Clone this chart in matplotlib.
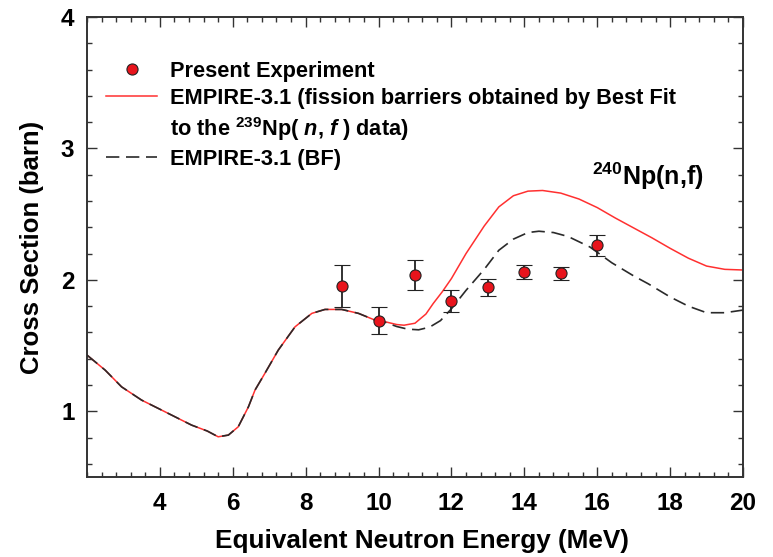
import matplotlib
matplotlib.use("Agg")
import matplotlib.pyplot as plt
from matplotlib.lines import Line2D
from matplotlib.ticker import MultipleLocator

plt.rcParams['font.family'] = ['Liberation Sans', 'DejaVu Sans']
plt.rcParams['font.weight'] = 'bold'
plt.rcParams['axes.labelweight'] = 'bold'
plt.rcParams['mathtext.fontset'] = 'custom'
plt.rcParams['mathtext.rm'] = 'Liberation Sans:bold'
plt.rcParams['mathtext.it'] = 'Liberation Sans:italic:bold'
plt.rcParams['mathtext.bf'] = 'Liberation Sans:bold'

# measured cross sections
exp_e = [9, 10, 11, 12, 13, 14, 15, 16]
exp_xs = [1.95, 1.69, 2.035, 1.84, 1.945, 2.06, 2.05, 2.265]
exp_err = [0.16, 0.105, 0.115, 0.083, 0.065, 0.053, 0.05, 0.08]

# EMPIRE curves, identical below ~10 MeV
common_e = [2.0, 2.5, 2.95, 3.5, 4.05, 4.87, 5.3, 5.6, 5.88, 6.15, 6.43, 6.61,
            6.88, 7.25, 7.71, 8.17, 8.53, 8.99, 9.45, 9.9]
common_xs = [1.428, 1.313, 1.186, 1.085, 1.009, 0.895, 0.85, 0.806, 0.819, 0.882,
             1.034, 1.161, 1.288, 1.466, 1.643, 1.745, 1.775, 1.775, 1.745, 1.694]

fit_e = [10.2, 10.5, 10.7, 11.0, 11.3, 11.5, 11.75, 12.0, 12.4, 12.9, 13.3, 13.7,
         14.1, 14.5, 15.0, 15.5, 16.0, 16.5, 17.0, 17.5, 18.0, 18.5, 19.0, 19.5, 20.0]
fit_xs = [1.68, 1.66, 1.655, 1.67, 1.74, 1.82, 1.91, 2.01, 2.2, 2.41, 2.555, 2.64,
          2.675, 2.68, 2.66, 2.615, 2.55, 2.47, 2.395, 2.32, 2.24, 2.165, 2.105, 2.08, 2.075]

bf_e = [10.2, 10.5, 10.8, 11.1, 11.4, 11.7, 12.0, 12.4, 12.9, 13.3, 13.7, 14.1,
        14.4, 14.8, 15.2, 15.8, 16.4, 17.0, 17.4, 18.0, 18.5, 19.0, 19.5, 20.0]
bf_xs = [1.675, 1.645, 1.625, 1.62, 1.64, 1.69, 1.78, 1.92, 2.08, 2.225, 2.31, 2.36,
         2.37, 2.36, 2.33, 2.25, 2.13, 2.03, 1.97, 1.87, 1.8, 1.75, 1.75, 1.77]

fig = plt.figure(figsize=(7.73, 5.57), dpi=100)
ax = fig.add_axes([0.1125, 0.1436, 0.8487, 0.8259])

ax.plot(common_e + fit_e, common_xs + fit_xs, color='#ff3030', lw=1.1, zorder=2)
ax.plot(common_e + bf_e, common_xs + bf_xs, color='#2a2a2a', lw=1.2,
        dashes=(8, 4), zorder=3)
ax.errorbar(exp_e, exp_xs, yerr=exp_err, fmt='o', ms=8, mfc='#e8141c',
            mec='#222222', mew=0.8, ecolor='#222222', elinewidth=1.3,
            capsize=5.5, capthick=1.3, zorder=4)

ax.set_xlim(2, 20)
ax.set_ylim(0.5, 4)
ax.set_xticks(range(4, 21, 2))
ax.set_yticks([1, 2, 3, 4])
ax.xaxis.set_minor_locator(MultipleLocator(0.4))
ax.yaxis.set_minor_locator(MultipleLocator(0.2))
ax.tick_params(which='both', direction='in', top=True, right=True,
               color='#333333', width=1.0)
ax.tick_params(which='major', length=7, labelsize=17.5)
ax.tick_params(which='minor', length=3.6)
ax.tick_params(axis='x', pad=11)
ax.tick_params(axis='y', pad=9)
for s in ax.spines.values():
    s.set_linewidth(1.4)
    s.set_color('#333333')

ax.set_xlabel('Equivalent Neutron Energy (MeV)', fontsize=18.8)
ax.xaxis.set_label_coords(0.5105, -0.113)
ax.set_ylabel('Cross Section (barn)', fontsize=18.5, labelpad=12)

ax.text(15.86, 2.72, r'$^{240}$Np(n,f)', fontsize=18, va='baseline', ha='left')

handles = [Line2D([], [], ls='none', marker='o', ms=8, mfc='#e8141c', mec='#222222', mew=0.8),
           Line2D([], [], color='#ff3030', lw=1.1),
           Line2D([], [], color='none'),
           Line2D([], [], color='#2a2a2a', lw=1.2, dashes=(8, 4))]
labels = ['Present Experiment',
          'EMPIRE-3.1 (fission barriers obtained by Best Fit',
          r'to the $^{239}$Np( $n$, $f$ ) data)',
          'EMPIRE-3.1 (BF)']
ax.legend(handles, labels, loc='upper left', bbox_to_anchor=(0.029, 0.905),
          frameon=False, fontsize=15.7, handlelength=2.35, handletextpad=0.6,
          borderpad=0, borderaxespad=0, labelspacing=0.28)

fig.savefig('out.png', dpi=100)
